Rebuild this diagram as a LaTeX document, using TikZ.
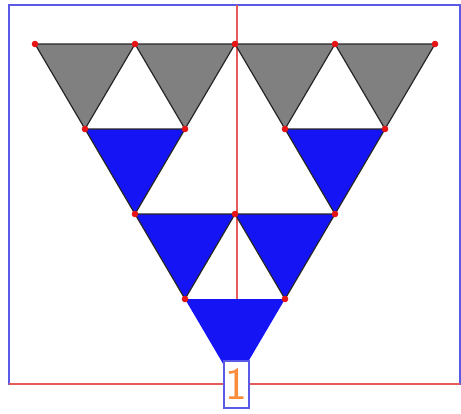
\documentclass[tikz,border=0pt]{standalone}
\usepackage{xcolor}
\usepackage{tikz}
\definecolor{framblue}{RGB}{90, 90, 230}
\definecolor{axisred}{RGB}{230, 90, 90}
\definecolor{cellgray}{RGB}{128, 128, 128}
\definecolor{cellblue}{RGB}{20, 20, 245}
\definecolor{labelorange}{RGB}{250, 140, 60}
\definecolor{dotred}{RGB}{230, 20, 20}

\tikzset{
  graycell/.style={fill=cellgray, draw=black!85, line width=1.2pt, line join=round},
  bluecell/.style={fill=cellblue, draw=black!85, line width=1.2pt, line join=round},
  vertexdot/.style={fill=dotred, draw=none}
}

\begin{document}
\begin{tikzpicture}[x=1pt, y=-1pt]
  \useasboundingbox (0,0) rectangle (461,413);
  % frame and axes
  \draw[framblue, line width=1.5pt] (9,5) rectangle (460,384);
  \draw[axisred, line width=1.8pt] (237,5) -- (237,384);
  \draw[axisred, line width=1.8pt] (9,384) -- (460,384);
  % vertices: row i, position k
  \foreach \i in {0,...,4} {
    \pgfmathtruncatemacro{\last}{4-\i}
    \foreach \k in {0,...,\last}
      \coordinate (v\i\k) at ({35+50*\i+100*\k}, {44+85*\i});
  }
  % top row, gray cells
  \foreach \k [evaluate=\k as \n using int(\k+1)] in {0,...,3}
    \draw[graycell] (v0\k) -- (v0\n) -- (v1\k) -- cycle;
  % blue cells
  \draw[bluecell] (v10) -- (v11) -- (v20) -- cycle;
  \draw[bluecell] (v12) -- (v13) -- (v22) -- cycle;
  \draw[bluecell] (v20) -- (v21) -- (v30) -- cycle;
  \draw[bluecell] (v21) -- (v22) -- (v31) -- cycle;
  \fill[cellblue] (v30) -- (v31) -- (v40) -- cycle;
  % red dots on the vertices
  \foreach \p in {v00,v01,v02,v03,v04,v10,v11,v12,v13,v20,v21,v22,v30,v31}
    \fill[vertexdot] (\p) circle (3.3pt);
  % label
  \node[draw=framblue, fill=white, line width=1.2pt, inner sep=0pt,
        minimum width=25pt, minimum height=47pt,
        text=labelorange, font=\sffamily\fontsize{46}{46}\selectfont]
    (lbl) at (236.5,384.5) {1};
\end{tikzpicture}
\end{document}
